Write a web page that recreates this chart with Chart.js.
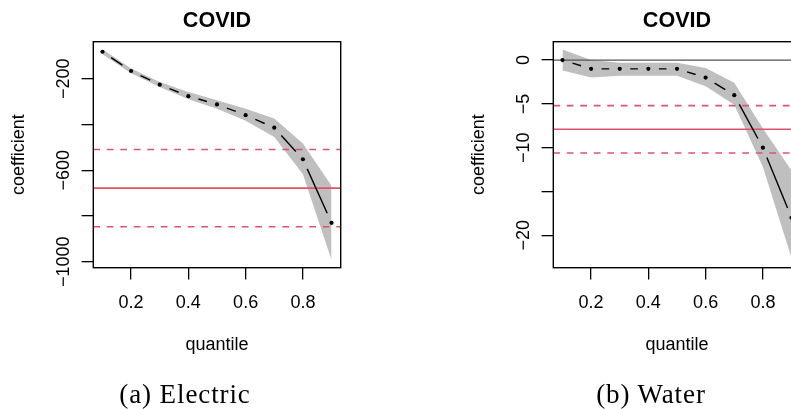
<!DOCTYPE html>
<html>
<head>
<meta charset="utf-8">
<script src="https://cdn.jsdelivr.net/npm/chart.js@4/dist/chart.umd.min.js"></script>
<style>
  html, body { margin: 0; padding: 0; background: #fff; overflow: hidden; width: 791px; height: 409px; }
  .panel { position: absolute; top: 0; width: 400px; height: 409px; }
  .caption {
    position: absolute; top: 381px; width: 260px; text-align: center;
    font-family: "Liberation Serif", serif; font-size: 27px; line-height: 27px;
    letter-spacing: 0.9px; color: #000; white-space: nowrap;
  }
</style>
</head>
<body>
<div class="panel" style="left:0"><canvas id="electric" width="400" height="409"></canvas></div>
<div class="panel" style="left:460px"><canvas id="water" width="400" height="409"></canvas></div>
<div class="caption" style="left:55px">(a) Electric</div>
<div class="caption" style="left:521px">(b) Water</div>
<script>
// Quantile-regression coefficients for the COVID term, with confidence bands
const quantiles = [0.1, 0.2, 0.3, 0.4, 0.5, 0.6, 0.7, 0.8, 0.9];

const electricCoef  = [-82, -166, -226, -276, -312, -359, -414, -552, -830];
const electricLower = [-93, -176, -236, -290, -331, -384, -455, -618, -992];
const electricUpper = [-71, -155, -214, -258, -294, -331, -374, -483, -668];
const electricOls = -678;
const electricOlsLower = -847;
const electricOlsUpper = -509;

const waterCoef  = [0, -1, -1, -1, -1, -2, -4, -10, -18];
const waterLower = [-1.2, -2.0, -1.8, -1.8, -1.8, -3.0, -5.1, -12.2, -22.6];
const waterUpper = [1.2, 0.0, -0.3, -0.3, -0.3, -0.9, -2.6, -7.8, -12.6];
const waterOls = -7.9;
const waterOlsLower = -10.6;
const waterOlsUpper = -5.2;

// Axes
const xRange = [0.068, 0.932];
const xTicks = [0.2, 0.4, 0.6, 0.8];
const xTickLabels = ['0.2', '0.4', '0.6', '0.8'];

const electricYRange = [-1026, -38];
const electricYTicks = [-1000, -800, -600, -400, -200];
const electricYLabels = ['\u22121000', '', '\u2212600', '', '\u2212200'];

const waterYRange = [-23.7, 2.1];
const waterYTicks = [-20, -15, -10, -5, 0];
const waterYLabels = ['\u221220', '', '\u221210', '\u22125', '0'];

const RED = '#DF536B';
const BAND = '#BFBFBF';
const FONT = 'Liberation Sans';
const POINT_GAP = 10.5;   // space left around each point on the connecting line

Chart.defaults.font.family = FONT;
Chart.defaults.font.size = 18;
Chart.defaults.color = '#000';

// Box around the plotting region
const panelFrame = {
  id: 'panelFrame',
  afterDraw(chart) {
    const { ctx, chartArea: a } = chart;
    ctx.save();
    ctx.strokeStyle = '#000';
    ctx.lineWidth = 1.4;
    ctx.strokeRect(a.left, a.top, a.right - a.left, a.bottom - a.top);
    ctx.restore();
  }
};

// Y tick labels written parallel to the axis
const rotatedYLabels = {
  id: 'rotatedYLabels',
  afterDraw(chart, args, opts) {
    const scale = chart.scales.y;
    const ctx = chart.ctx;
    ctx.save();
    ctx.font = '18px "' + FONT + '"';
    ctx.fillStyle = '#000';
    ctx.textAlign = 'center';
    ctx.textBaseline = 'alphabetic';
    scale.ticks.forEach((t, i) => {
      const text = opts.labels[i];
      if (!text) return;
      const y = scale.getPixelForValue(t.value);
      ctx.save();
      ctx.translate(chart.chartArea.left - opts.offset, y);
      ctx.rotate(-Math.PI / 2);
      ctx.fillText(text, 0, 0);
      ctx.restore();
    });
    ctx.restore();
  }
};

const points = values => quantiles.map((q, i) => ({ x: q, y: values[i] }));
const hline = v => [{ x: xRange[0], y: v }, { x: xRange[1], y: v }];

// Solid connector that stops short of each point
const gapDash = ctx => {
  const d = Math.hypot(ctx.p1.x - ctx.p0.x, ctx.p1.y - ctx.p0.y);
  const on = Math.max(d - 2 * POINT_GAP, 0);
  return [0, POINT_GAP, on, POINT_GAP];
};

function makePanel(id, p) {
  const datasets = [
    {
      label: 'coefficient', data: points(p.coef), order: 0,
      borderColor: '#000', borderWidth: 1.4, fill: false,
      pointRadius: 2.1, pointBackgroundColor: '#000', pointBorderWidth: 0,
      segment: { borderDash: gapDash }
    },
    { label: 'ols', data: hline(p.ols), order: 1, borderColor: RED, borderWidth: 1.6, pointRadius: 0, fill: false },
    { label: 'ols lower', data: hline(p.olsLower), order: 1, borderColor: RED, borderWidth: 1.6, borderDash: [6.7, 6.8], pointRadius: 0, fill: false },
    { label: 'ols upper', data: hline(p.olsUpper), order: 1, borderColor: RED, borderWidth: 1.6, borderDash: [6.7, 6.8], pointRadius: 0, fill: false },
  ];
  if (p.zeroLine) {
    datasets.push({ label: 'zero', data: hline(0), order: 1, borderColor: '#555', borderWidth: 1.3, pointRadius: 0, fill: false });
  }
  datasets.push(
    { label: 'band lower', data: points(p.lower), order: 2, borderWidth: 0, borderColor: 'rgba(0,0,0,0)', pointRadius: 0, fill: false },
    { label: 'band upper', data: points(p.upper), order: 2, borderWidth: 0, borderColor: 'rgba(0,0,0,0)', pointRadius: 0, fill: '-1', backgroundColor: BAND }
  );

  return new Chart(document.getElementById(id), {
    type: 'line',
    data: { datasets },
    plugins: [panelFrame, rotatedYLabels],
    options: {
      responsive: false,
      animation: false,
      devicePixelRatio: 1,
      events: [],
      layout: { padding: { left: 0, top: 0, right: 59.3, bottom: 0 } },
      plugins: {
        legend: { display: false },
        tooltip: { enabled: false },
        title: {
          display: true, text: 'COVID', fullSize: false, color: '#000',
          font: { family: FONT, size: 21.6, weight: 'bold' },
          padding: { top: 8.04, bottom: 7.74 }
        },
        rotatedYLabels: { labels: p.yLabels, offset: 24.5 }
      },
      scales: {
        x: {
          type: 'linear', position: 'bottom', bounds: 'data',
          min: xRange[0], max: xRange[1],
          afterBuildTicks: s => { s.ticks = xTicks.map(v => ({ value: v })); },
          afterFit: s => { s.height = 141.3; },
          border: { display: false },
          grid: { drawOnChartArea: false, drawTicks: true, tickLength: 11.7, color: '#000', lineWidth: 1.3 },
          ticks: {
            autoSkip: false, maxRotation: 0, minRotation: 0, padding: 13,
            font: { size: 18 }, color: '#000',
            callback: (v, i) => xTickLabels[i]
          },
          title: { display: true, text: 'quantile', font: { size: 18 }, color: '#000', padding: { top: 0, bottom: 53.2 } }
        },
        y: {
          type: 'linear', position: 'left', bounds: 'data',
          min: p.yRange[0], max: p.yRange[1],
          afterBuildTicks: s => { s.ticks = p.yTicks.map(v => ({ value: v })); },
          afterFit: s => { s.width = 93.3; },
          border: { display: false },
          grid: { drawOnChartArea: false, drawTicks: true, tickLength: 11.7, color: '#000', lineWidth: 1.3 },
          ticks: { display: false },
          title: { display: true, text: 'coefficient', font: { size: 18 }, color: '#000', padding: { top: 8.6, bottom: 0 } }
        }
      }
    }
  });
}

makePanel('electric', {
  coef: electricCoef, lower: electricLower, upper: electricUpper,
  ols: electricOls, olsLower: electricOlsLower, olsUpper: electricOlsUpper,
  yRange: electricYRange, yTicks: electricYTicks, yLabels: electricYLabels,
  zeroLine: false
});

makePanel('water', {
  coef: waterCoef, lower: waterLower, upper: waterUpper,
  ols: waterOls, olsLower: waterOlsLower, olsUpper: waterOlsUpper,
  yRange: waterYRange, yTicks: waterYTicks, yLabels: waterYLabels,
  zeroLine: true
});
</script>
</body>
</html>
